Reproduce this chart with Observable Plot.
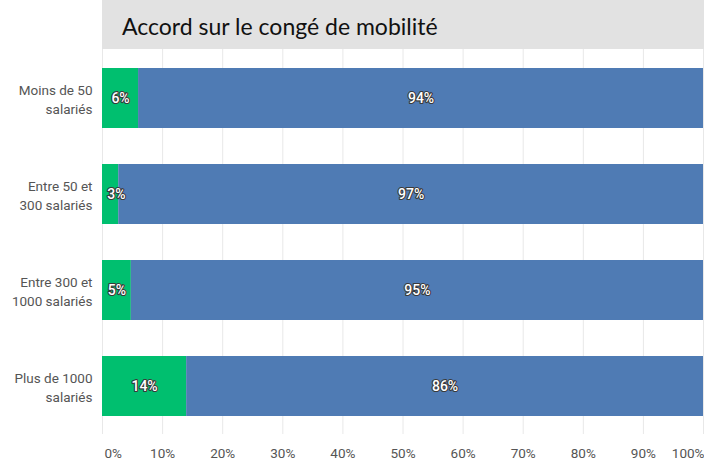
<!DOCTYPE html>
<html><head><meta charset="utf-8">
<script src="https://cdn.jsdelivr.net/npm/d3@7"></script>
<script src="https://cdn.jsdelivr.net/npm/@observablehq/plot@0.6"></script>
<style>
body{margin:0;background:#fff;}
#wrap{position:relative;width:704px;}
#title{margin-left:102px;height:49px;background:#e2e2e2;font-family:Lato,sans-serif;font-size:23px;color:#111;line-height:52px;padding-left:20px;box-sizing:border-box;}
</style></head>
<body><div id="wrap"><div id="title">Accord sur le congé de mobilité</div><div id="chart"></div></div>
<script>
const categories = ["Moins de 50\nsalariés", "Entre 50 et\n300 salariés", "Entre 300 et\n1000 salariés", "Plus de 1000\nsalariés"];
const greenValues = [6, 2.7, 4.8, 14];
const blueValues = [94, 97.3, 95.2, 86];
const tickValues = [0, 10, 20, 30, 40, 50, 60, 70, 80, 90, 100];

const rows = [];
categories.forEach((c, i) => {
  rows.push({cat: c, series: "oui", start: 0, end: greenValues[i], v: greenValues[i]});
  rows.push({cat: c, series: "non", start: greenValues[i], end: greenValues[i] + blueValues[i], v: blueValues[i]});
});
const colors = {oui: "#00bf6f", non: "#4f7bb4"};

const chart = Plot.plot({
  width: 704, height: 414,
  marginTop: 0, marginBottom: 29, marginLeft: 102, marginRight: 1,
  style: {fontFamily: "Roboto, sans-serif", fontSize: "13px", color: "#555"},
  x: {domain: [0, 100], axis: null},
  y: {domain: categories, padding: 0, axis: null},
  marks: [
    Plot.ruleX(tickValues, {stroke: "#e8e8e8", strokeWidth: 1}),
    Plot.barX(rows, {y: "cat", x1: "start", x2: "end", fill: d => colors[d.series], insetTop: 18, insetBottom: 18}),
    Plot.ruleY([0], {frameAnchor: "bottom", stroke: "#d6d6d6", strokeWidth: 2}),
    Plot.axisY({tickSize: 0, tickPadding: 10, fontSize: 13.5, lineHeight: 1.4, fill: "#555", label: null}),
    Plot.text(rows, {
      y: "cat",
      x: d => d.series === "oui" ? Math.max(d.v / 2, 2.3) : (d.start + d.end) / 2,
      text: d => Math.round(d.v) + "%",
      fill: "white", stroke: "#3a3a3a", strokeWidth: 2.2, fontSize: 14, fontWeight: 500
    }),
    Plot.text(tickValues.filter(t => t === 0), {x: d => d, text: d => d + "%", frameAnchor: "bottom", dy: 23, dx: 2, textAnchor: "start", fill: "#555", fontSize: 13.5}),
    Plot.text(tickValues.filter(t => t > 0 && t < 100), {x: d => d, text: d => d + "%", frameAnchor: "bottom", dy: 23, textAnchor: "middle", fill: "#555", fontSize: 13.5}),
    Plot.text(tickValues.filter(t => t === 100), {x: d => d, text: d => d + "%", frameAnchor: "bottom", dy: 23, dx: 1, textAnchor: "end", fill: "#555", fontSize: 13.5})
  ]
});
document.getElementById("chart").appendChild(chart);
</script></body></html>
